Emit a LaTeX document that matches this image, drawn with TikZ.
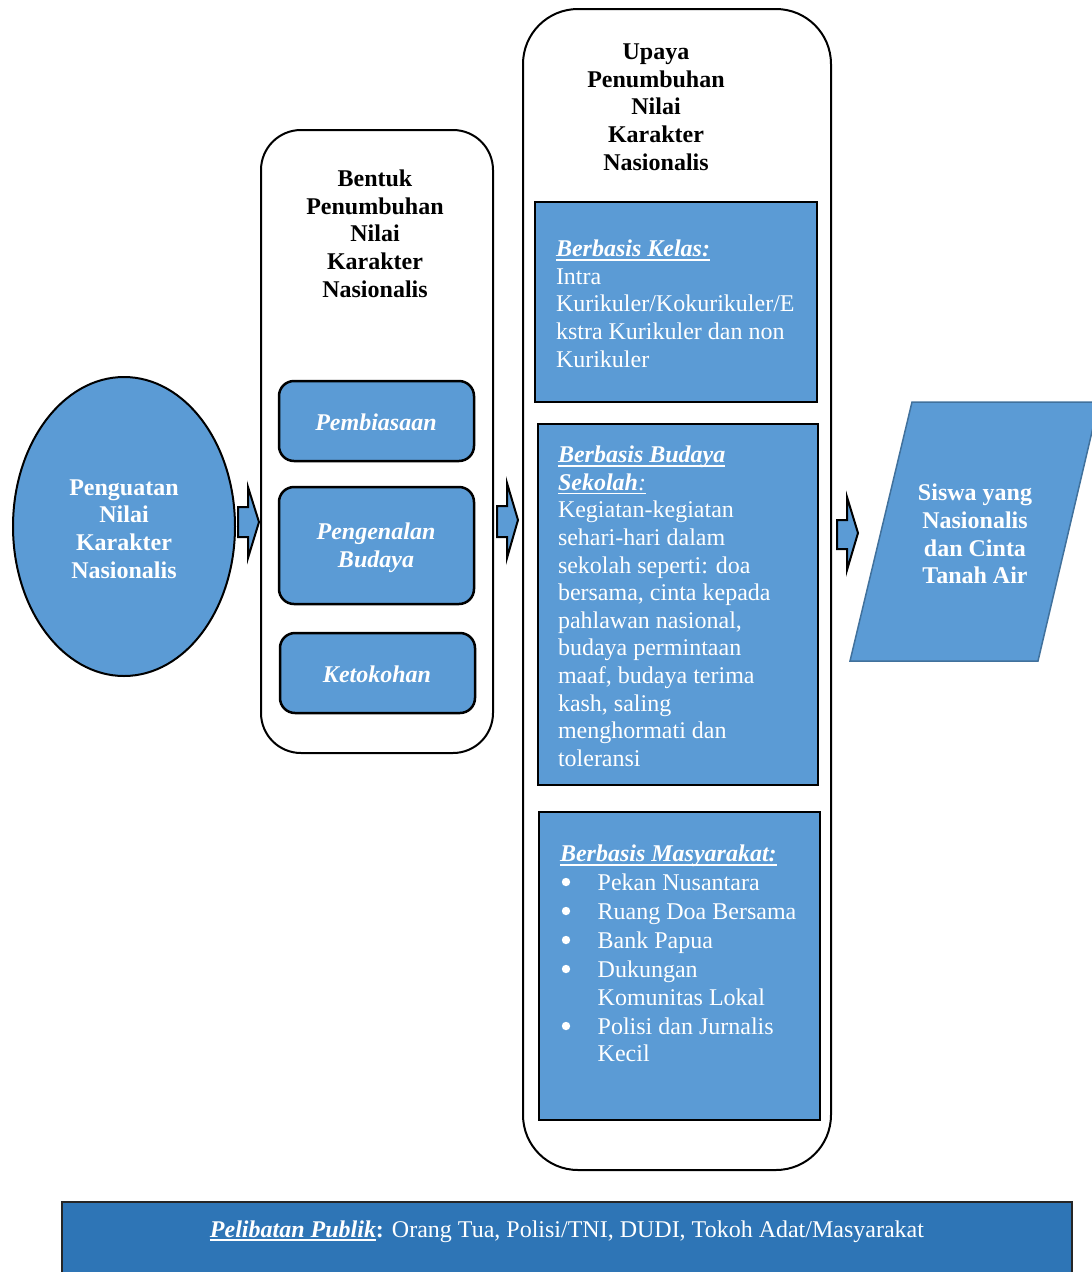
\documentclass[tikz,border=0pt]{standalone}
\usepackage{fontspec}
\setmainfont{Liberation Serif}
\usetikzlibrary{shapes.geometric}
\definecolor{boxblue}{HTML}{5B9BD5}
\definecolor{barblue}{HTML}{2E75B6}
\definecolor{edgeblue}{HTML}{41719C}
\newcommand{\myul}[1]{\setbox0=\hbox{#1}\rlap{\rule[-4.2pt]{\wd0}{1.8pt}}\box0}
\newcommand{\bulsp}{\hspace*{37.7pt}}
\begin{document}
\begin{tikzpicture}[x=1pt,y=-1pt,
  every node/.style={font=\fontsize{24}{27.6}\selectfont, inner sep=0pt, outer sep=0pt},
  outerbox/.style={draw=black, line width=2pt, fill=white, rounded corners=#1},
  pillbox/.style={draw=black, line width=2.5pt, fill=boxblue, rounded corners=15pt},
  rectbox/.style={draw=black, line width=2.5pt, fill=boxblue},
  whitebold/.style={text=white, font=\fontsize{24}{27.6}\selectfont\bfseries},
  whiteboldit/.style={text=white, font=\fontsize{24}{27.6}\selectfont\bfseries\itshape},
  whitetext/.style={text=white, align=left},
  blockarrow/.style={draw=black, line width=2pt, fill=boxblue, line join=miter},
  header/.style={text=black, align=center, font=\fontsize{24}{27.6}\selectfont\bfseries},
  bulletdot/.style={fill=white}
]
\useasboundingbox (0,0) rectangle (1092,1272);

% outer rounded containers
\node[outerbox=40pt, minimum width=232pt, minimum height=623pt] (b2) at (377,441.5) {};
\node[outerbox=55pt, minimum width=308pt, minimum height=1161pt] (b3) at (677,589.5) {};

% source ellipse
\node[ellipse, draw=black, line width=2pt, fill=boxblue, minimum width=222pt, minimum height=299pt] (src) at (124,526.5) {};
\node[whitebold, align=center] (srct) at (124,529) {Penguatan\\Nilai\\Karakter\\Nasionalis};

% box 2 header and items
\node[header, anchor=north] (h2) at (375,170) {Bentuk\\Penumbuhan\\Nilai\\Karakter\\Nasionalis};
\node[pillbox, minimum width=195pt, minimum height=80pt] (p1) at (376.5,421) {};
\node[whiteboldit, anchor=base] (p1t) at (376,430) {Pembiasaan};
\node[pillbox, minimum width=195pt, minimum height=117pt] (p2) at (376.5,545.5) {};
\node[whiteboldit, align=center] (p2t) at (376,548) {Pengenalan\\Budaya};
\node[pillbox, minimum width=195pt, minimum height=80pt] (p3) at (377.5,673) {};
\node[whiteboldit, anchor=base] (p3t) at (377,682) {Ketokohan};

% box 3 header and items
\node[header, anchor=north] (h3) at (656,44) {Upaya\\Penumbuhan\\Nilai\\Karakter\\Nasionalis};

\node[rectbox, minimum width=282pt, minimum height=200pt] (k1) at (676,302) {};
\node[whitetext, anchor=north west] (k1t) at (556,240)
  {\myul{\bfseries\itshape Berbasis Kelas:}\\
   Intra\\
   Kurikuler/Kokurikuler/E\\
   kstra Kurikuler dan non\\
   Kurikuler};

\node[rectbox, minimum width=280pt, minimum height=361pt] (k2) at (678,604.5) {};
\node[whitetext, anchor=north west] (k2t) at (558,446)
  {\myul{\bfseries\itshape Berbasis Budaya}\\
   \myul{\bfseries\itshape Sekolah}\myul{\itshape :}\\
   Kegiatan-kegiatan\\
   sehari-hari dalam\\
   sekolah seperti: doa\\
   bersama, cinta kepada\\
   pahlawan nasional,\\
   budaya permintaan\\
   maaf, budaya terima\\
   kash, saling\\
   menghormati dan\\
   toleransi};

\node[rectbox, minimum width=281pt, minimum height=308pt] (k3) at (679.5,966) {};
\node[whitetext, anchor=north west] (k3t) at (560,845)
  {\myul{\bfseries\itshape Berbasis Masyarakat:}\\[1.4pt]
   \bulsp Pekan Nusantara\\[1.4pt]
   \bulsp Ruang Doa Bersama\\[1.4pt]
   \bulsp Bank Papua\\[1.4pt]
   \bulsp Dukungan\\
   \bulsp Komunitas Lokal\\[1.4pt]
   \bulsp Polisi dan Jurnalis\\
   \bulsp Kecil};
\foreach \by in {882,911,940,969,1026}
  \fill[bulletdot] (566,\by) circle (4.2pt);

% result parallelogram
\coordinate (q1) at (850,661);
\coordinate (q2) at (912,402);
\coordinate (q3) at (1099,402);
\coordinate (q4) at (1038,661);
\draw[draw=edgeblue, line width=1.5pt, fill=boxblue] (q1) -- (q2) -- (q3) -- (q4) -- cycle;
\node[whitebold, align=center] (rest) at (975,534) {Siswa yang\\Nasionalis\\dan Cinta\\Tanah Air};

% block arrows
\draw[blockarrow] (238,507) -- (248,507) -- (248,487) -- (259,522) -- (248,558) -- (248,537) -- (238,537) -- cycle;
\draw[blockarrow] (497,506) -- (507,506) -- (507,483) -- (518,520) -- (507,558) -- (507,537) -- (497,537) -- cycle;
\draw[blockarrow] (837,520) -- (847,520) -- (847,497) -- (858,533) -- (847,570) -- (847,549) -- (837,549) -- cycle;

% bottom bar
\node[draw=black!85, line width=1.5pt, fill=barblue, minimum width=1010pt, minimum height=100pt] (bar) at (567,1252) {};
\node[text=white, anchor=base] (bart) at (567,1237)
  {\myul{\bfseries\itshape Pelibatan Publik}\textbf{:} Orang Tua, Polisi/TNI, DUDI, Tokoh Adat/Masyarakat};
\end{tikzpicture}
\end{document}
